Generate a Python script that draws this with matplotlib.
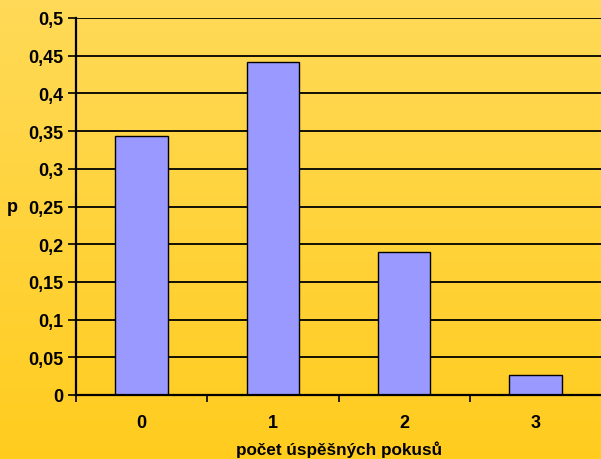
import numpy as np
import matplotlib.pyplot as plt
from matplotlib.colors import LinearSegmentedColormap

# binomial probabilities, n=3
uspechy = [0, 1, 2, 3]
p = [0.343, 0.441, 0.189, 0.027]
yticks = [0, 0.05, 0.1, 0.15, 0.2, 0.25, 0.3, 0.35, 0.4, 0.45, 0.5]
xlabel = 'počet úspěšných pokusů'
ylabel = 'p'

plt.rcParams['font.family'] = ['Liberation Sans', 'DejaVu Sans']
plt.rcParams['font.weight'] = 'bold'
fs = 13

fig = plt.figure(figsize=(6.01, 4.6), dpi=100)

# yellow gradient behind everything
bg = fig.add_axes([0, 0, 1, 1], zorder=-10)
cmap = LinearSegmentedColormap.from_list('zluta', ['#FFCC1E', '#FFDA58'])
bg.imshow(np.linspace(0, 1, 256).reshape(-1, 1), aspect='auto', cmap=cmap,
          origin='lower', extent=[0, 1, 0, 1])
bg.axis('off')

ax = fig.add_axes([76 / 601, 64 / 460, 525 / 601, 377 / 460])
ax.set_facecolor('none')
ax.bar(uspechy, p, width=0.4, color='#9999FF', edgecolor='black', linewidth=1, zorder=3)

ax.set_xlim(-0.5, 3.5)
ax.set_ylim(0, 0.5)
ax.set_yticks(yticks)
ax.set_yticklabels([('%g' % v).replace('.', ',') for v in yticks])
ax.yaxis.grid(True, color='black', linewidth=1.3, zorder=0)
ax.set_axisbelow(True)

ax.set_xticks(uspechy)
ax.set_xticklabels([str(u) for u in uspechy])
ax.set_xticks([-0.5, 0.5, 1.5, 2.5], minor=True)
ax.tick_params(axis='x', which='major', length=0, pad=14, labelsize=fs)
ax.tick_params(axis='x', which='minor', length=5, width=1.2, direction='out')
ax.tick_params(axis='y', length=6, width=1.2, labelsize=fs, pad=3)

for s in ['top', 'right']:
    ax.spines[s].set_visible(False)
for s in ['left', 'bottom']:
    ax.spines[s].set_linewidth(1.6)
    ax.spines[s].set_zorder(4)

fig.text(339 / 601, 1 - 450 / 460, xlabel, fontsize=12.3, fontweight='bold',
         ha='center', va='center')
fig.text(12 / 601, 1 - 208 / 460, ylabel, fontsize=fs, fontweight='bold',
         ha='center', va='center')

plt.savefig('out.png', dpi=100)
